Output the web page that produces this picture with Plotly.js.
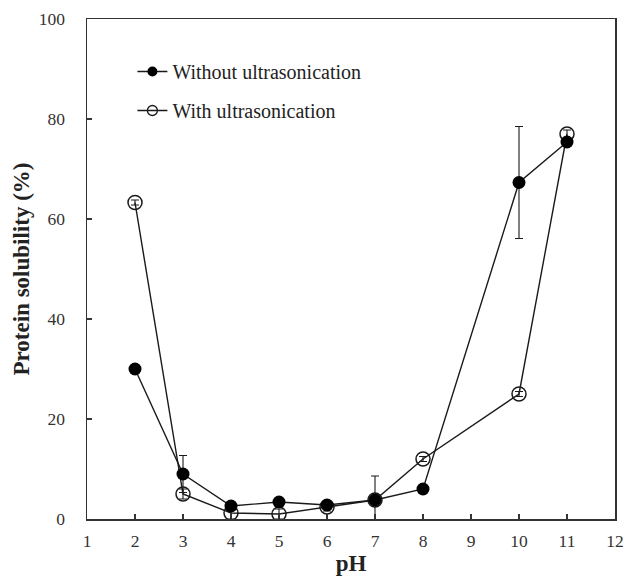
<!DOCTYPE html>
<html>
<head>
<meta charset="utf-8">
<script src="https://cdn.plot.ly/plotly-3.0.1.min.js"></script>
<style>html,body{margin:0;padding:0;background:#fff;}#chart{width:633px;height:582px;}</style>
</head>
<body>
<div id="chart"></div>
<script>
const pH = [2, 3, 4, 5, 6, 7, 8, 10, 11];
const withoutUltra = [30, 9, 2.6, 3.4, 2.8, 3.8, 6.0, 67.3, 75.4];
const withoutErr = [0.6, 3.7, 0.5, 0.5, 0.5, 4.8, 0.5, 11.2, 0.8];
const withUltra = [63.3, 5.0, 1.2, 1.0, 2.4, 3.8, 12.0, 25.0, 77.0];
const withErr = [0.5, 1.0, 1.2, 1.0, 0.8, 0.6, 0.5, 0.5, 0.8];
const seriesNames = ['Without ultrasonication', 'With ultrasonication'];
const xTicks = [1, 2, 3, 4, 5, 6, 7, 8, 9, 10, 11, 12];
const yTicks = [0, 20, 40, 60, 80, 100];

const ink = '#1a1a1a';
const serif = 'Liberation Serif, Times New Roman, serif';

const traces = [
  {
    x: pH, y: withUltra, name: seriesNames[1], type: 'scatter', mode: 'lines+markers',
    showlegend: false,
    line: {color: ink, width: 1.4},
    marker: {symbol: 'circle-open', size: 14, color: ink, line: {width: 1.5, color: ink}},
    error_y: {type: 'data', array: withErr, visible: true, color: ink, thickness: 1.1, width: 4}
  },
  {
    x: pH, y: withoutUltra, name: seriesNames[0], type: 'scatter', mode: 'lines+markers',
    showlegend: false,
    line: {color: ink, width: 1.4},
    marker: {symbol: 'circle', size: 13, color: '#000'},
    error_y: {type: 'data', array: withoutErr, visible: true, color: ink, thickness: 1.1, width: 4}
  },
  // legend-only entries (smaller symbols, as in the reference legend)
  {
    x: [null], y: [null], name: seriesNames[0], type: 'scatter', mode: 'lines+markers',
    legendgroup: 'a', legendrank: 1,
    line: {color: ink, width: 1.4},
    marker: {symbol: 'circle', size: 10, color: '#000'}
  },
  {
    x: [null], y: [null], name: seriesNames[1], type: 'scatter', mode: 'lines+markers',
    legendgroup: 'b', legendrank: 2,
    line: {color: ink, width: 1.4},
    marker: {symbol: 'circle-open', size: 10, color: ink, line: {width: 1.3, color: ink}}
  }
];

const layout = {
  width: 633, height: 582,
  margin: {l: 87, r: 18, t: 19, b: 63},
  paper_bgcolor: '#fff', plot_bgcolor: '#fff',
  font: {family: serif, color: '#222', size: 17},
  showlegend: true,
  legend: {
    x: 0.086, y: 0.934, xanchor: 'left', yanchor: 'top',
    font: {family: serif, size: 20, color: '#222'},
    bgcolor: 'rgba(0,0,0,0)', traceorder: 'grouped', tracegroupgap: 10,
    itemwidth: 30
  },
  xaxis: {
    range: [1, 12], tickvals: xTicks, ticktext: xTicks.map(String),
    ticks: 'inside', ticklen: 5, tickcolor: '#333', tickwidth: 1.2,
    ticklabelstandoff: 5,
    showline: true, linecolor: '#333', linewidth: 1.5, mirror: true,
    showgrid: false, zeroline: false,
    tickfont: {family: serif, size: 17.5, color: '#333'},
    title: {text: '<b>pH</b>', font: {family: serif, size: 23, color: '#222'}, standoff: 5}
  },
  yaxis: {
    range: [0, 100], tickvals: yTicks, ticktext: yTicks.map(String),
    ticks: 'inside', ticklen: 5, tickcolor: '#333', tickwidth: 1.2,
    ticklabelstandoff: 17,
    showline: true, linecolor: '#333', linewidth: 1.5, mirror: true,
    showgrid: false, zeroline: false,
    tickfont: {family: serif, size: 17.5, color: '#333'},
    title: {text: '<b>Protein solubility (%)</b>', font: {family: serif, size: 23, color: '#222'}, standoff: 2}
  }
};

Plotly.newPlot('chart', traces, layout, {displayModeBar: false, staticPlot: true});
</script>
</body>
</html>
